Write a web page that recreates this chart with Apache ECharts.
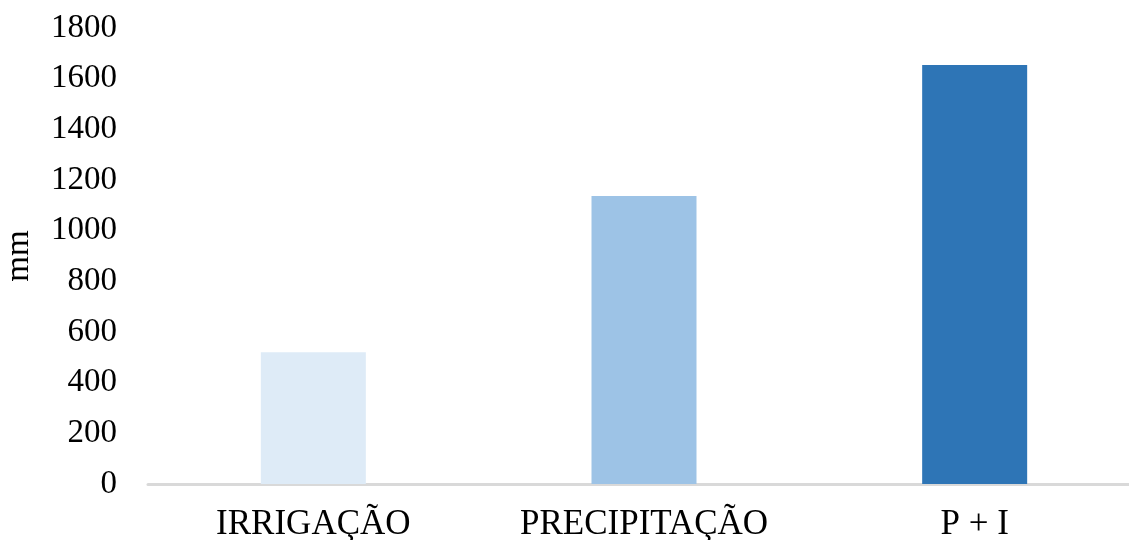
<!DOCTYPE html>
<html>
<head>
<meta charset="utf-8">
<script src="https://cdn.jsdelivr.net/npm/echarts@6/dist/echarts.min.js"></script>
<style>
  html, body { margin: 0; padding: 0; background: #fff; }
  #chart { width: 1129px; height: 540px; }
</style>
</head>
<body>
<div id="chart"></div>
<script>
var categories = ["IRRIGAÇÃO", "PRECIPITAÇÃO", "P + I"];
var values = [520, 1137, 1654];
var barColors = ["#DEEBF7", "#9DC3E6", "#2E75B6"];
var yTicks = { min: 0, max: 1800, interval: 200 };

var myChart = echarts.init(document.getElementById("chart"));
var serif = "'Liberation Serif', 'Times New Roman', serif";

var option = {
    animation: false,
    grid: { left: 148, top: 28, width: 992, bottom: 56, outerBoundsMode: "none", containLabel: false },
    xAxis: {
        type: "category",
        data: categories,
        axisLine: { lineStyle: { color: "#d9d9d9", width: 3 } },
        axisTick: { show: false },
        axisLabel: {
            color: "#000",
            fontFamily: serif,
            fontSize: 35,
            margin: 23,
            interval: 0
        }
    },
    yAxis: {
        type: "value",
        min: yTicks.min,
        max: yTicks.max,
        interval: yTicks.interval,
        name: "mm",
        nameLocation: "middle",
        nameGap: 112,
        nameTextStyle: { color: "#000", fontFamily: serif, fontSize: 33 },
        axisLine: { show: false },
        axisTick: { show: false },
        splitLine: { show: false },
        axisLabel: {
            color: "#000",
            fontFamily: serif,
            fontSize: 33,
            margin: 31,
            formatter: function (v) { return String(v); }
        }
    },
    series: [
        {
            type: "bar",
            barWidth: 105,
            data: values.map(function (v, i) {
                return { value: v, itemStyle: { color: barColors[i] } };
            })
        }
    ]
};
myChart.setOption(option);
</script>
</body>
</html>
